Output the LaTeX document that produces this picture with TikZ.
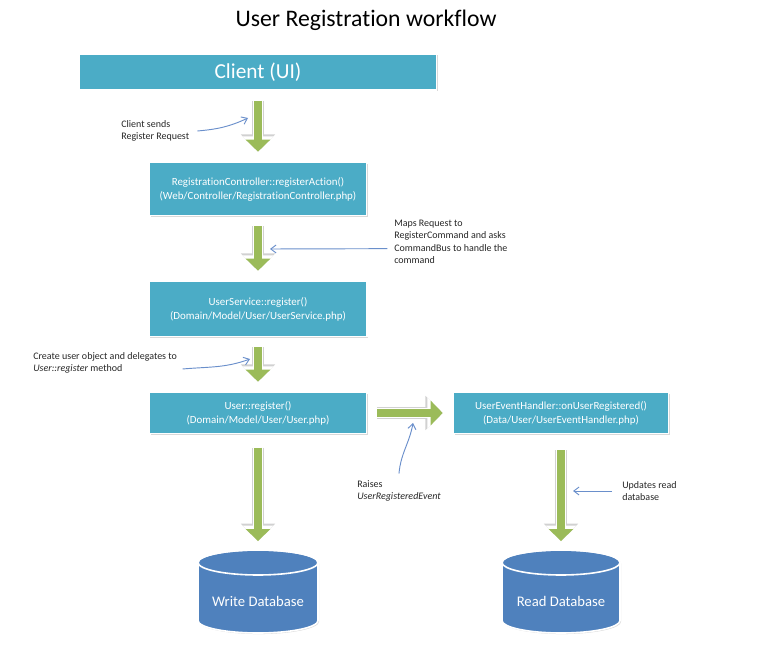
\documentclass[tikz,border=0pt]{standalone}
\usepackage{fontspec}
\setmainfont{Carlito}[Ligatures=NoCommon]
\usetikzlibrary{arrows.meta,shadows,positioning}

\definecolor{boxblue}{HTML}{4BACC6}
\definecolor{flowgreen}{HTML}{9BBB59}
\definecolor{dbblue}{HTML}{4F81BD}
\definecolor{noteblue}{HTML}{6A8FCB}

\tikzset{
  stage/.style={fill=boxblue, draw=white, line width=1.2pt, text=white, align=center,
    inner sep=0pt, drop shadow={shadow xshift=.8pt, shadow yshift=-.8pt, opacity=.3},
    font=\fontsize{8.2}{10.5}\selectfont},
  dbshape/.style={fill=dbblue, draw=white, line width=1.2pt,
    drop shadow={shadow xshift=.8pt, shadow yshift=-.8pt, opacity=.3}},
  dbtext/.style={text=white, inner sep=0pt, minimum width=90pt, minimum height=43.5pt,
    font=\fontsize{11}{13}\selectfont},
  fatarrow/.style={draw=flowgreen, line width=6pt, -{Triangle[width=18pt,length=9pt]},
    shorten <=7.5pt, shorten >=7.5pt,
    preaction={draw=black!18, line width=9.5pt, -{Triangle[width=25pt,length=13pt]}},
    preaction={draw=white, line width=8pt, -{Triangle[width=22pt,length=11.5pt]}}},
  note/.style={align=left, inner sep=0pt, anchor=west, text=black!85,
    font=\fontsize{7.5}{9.3}\selectfont},
  pointer/.style={draw=noteblue, line width=.7pt, -{Straight Barb[length=4pt,width=6pt]}}
}

\begin{document}
\begin{tikzpicture}[x=0.75pt,y=-0.75pt]
  \useasboundingbox (0,0) rectangle (768,648);
  % Title
  \node[font=\fontsize{17.8}{21}\selectfont] (title) at (366,20) {User Registration workflow};
  % Steps
  \node[stage, minimum width=267.75pt, minimum height=27pt, font=\fontsize{16}{19}\selectfont]
    (client) at (258,72) {Client (UI)};
  \node[stage, minimum width=162.75pt, minimum height=39.75pt] (ctrl) at (258,189)
    {RegistrationController::registerAction()\\(Web/Controller/RegistrationController.php)};
  \node[stage, minimum width=163.5pt, minimum height=41.25pt] (service) at (258,309)
    {UserService::register()\\(Domain/Model/User/UserService.php)};
  \node[stage, minimum width=162.75pt, minimum height=30.75pt] (user) at (258,413)
    {User::register()\\(Domain/Model/User/User.php)};
  \node[stage, minimum width=161.25pt, minimum height=30.75pt] (handler) at (561,413)
    {UserEventHandler::onUserRegistered()\\(Data/User/UserEventHandler.php)};
  % Databases
  \filldraw[dbshape] (198,562.5) -- (198,620.5) arc[start angle=180,end angle=0,x radius=60,y radius=12.5]
    -- (318,562.5) arc[start angle=0,end angle=-180,x radius=60,y radius=12.5] -- cycle;
  \draw[white, line width=1.2pt] (258,562.5) ellipse [x radius=60,y radius=12.5];
  \node[dbtext] (writedb) at (258,601) {Write Database};
  \filldraw[dbshape] (502,562.5) -- (502,620.5) arc[start angle=180,end angle=0,x radius=59,y radius=12.5]
    -- (620,562.5) arc[start angle=0,end angle=-180,x radius=59,y radius=12.5] -- cycle;
  \draw[white, line width=1.2pt] (561,562.5) ellipse [x radius=59,y radius=12.5];
  \node[dbtext] (readdb) at (561,601) {Read Database};
  % Flow
  \draw[fatarrow] (client) -- (ctrl);
  \draw[fatarrow] (ctrl) -- (service);
  \draw[fatarrow] (service) -- (user);
  \draw[fatarrow] (user) -- (handler);
  \draw[fatarrow, shorten <=10pt, shorten >=23pt] (user) -- (writedb);
  \draw[fatarrow, shorten <=12pt, shorten >=23pt] (handler) -- (readdb);
  % Notes
  \node[note] (sendnote) at (121,131) {Client sends\\Register Request};
  \node[note] (mapnote) at (394,242) {Maps Request to\\RegisterCommand and asks\\CommandBus to handle the\\command};
  \node[note] (createnote) at (33,363) {Create user object and delegates to\\\textit{User::register} method};
  \node[note] (raisenote) at (357,491) {Raises\\\textit{UserRegisteredEvent}};
  \node[note] (updatenote) at (622,491) {Updates read\\database};
  \coordinate (sendtip) at (248,118);
  \coordinate (maptip) at (270,249);
  \coordinate (createtip) at (250,359);
  \coordinate (raisetip) at (413,423);
  \coordinate (updatetip) at (573,491);
  \draw[pointer] ([xshift=6pt]sendnote.east) to[out=5,in=205] (sendtip);
  \draw[pointer] ([xshift=-5pt,yshift=-5pt]mapnote.west) -- (maptip);
  \draw[pointer] ([xshift=4pt,yshift=-4.5pt]createnote.east) to[out=5,in=200] (createtip);
  \draw[pointer] ([yshift=5pt]raisenote.north) to[out=85,in=-100] (raisetip);
  \draw[pointer] ([xshift=-7.5pt]updatenote.west) -- (updatetip);
\end{tikzpicture}
\end{document}
